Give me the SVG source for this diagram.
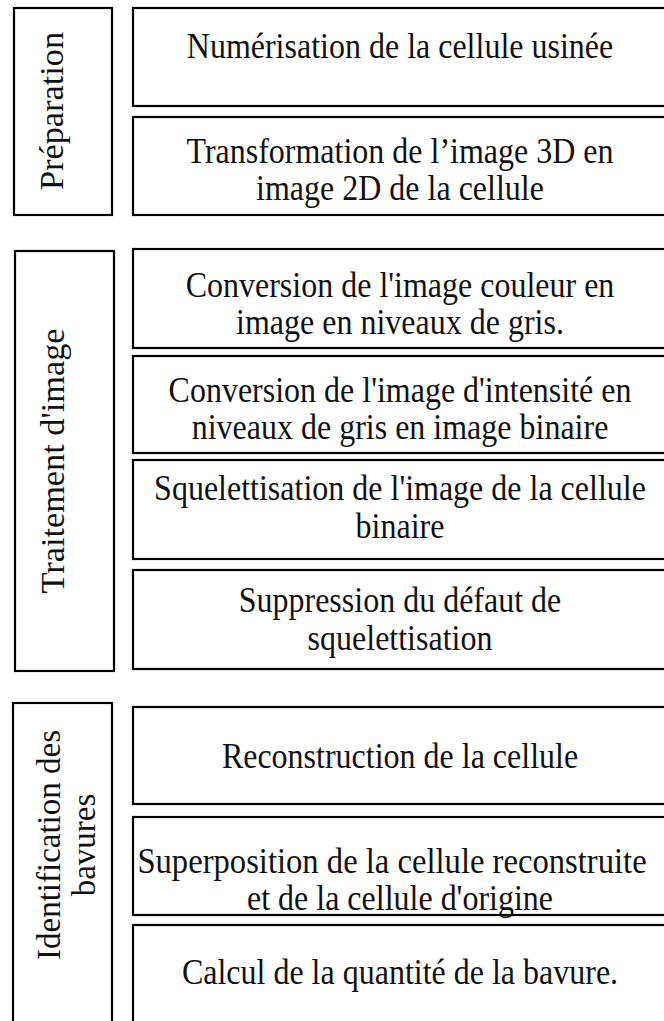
<svg xmlns="http://www.w3.org/2000/svg" width="664" height="1021" viewBox="0 0 664 1021">
<style>
rect{fill:#fff;stroke:#000;stroke-width:2.2}
text{font-family:"Liberation Serif","Times New Roman",serif;font-size:32px;fill:#111;text-anchor:middle}
text.v{font-size:33px}
</style>
<rect x="0" y="0" width="664" height="1021" style="stroke:none"/>
<g id="sec-preparation">
<rect x="14" y="8" width="98" height="207"/>
<text class="v" transform="translate(63,111) rotate(-90) scale(1.04,1)">Préparation</text>
</g>
<g id="n1"><rect x="133" y="8" width="540" height="98"/><text transform="translate(400,58) scale(1,1.12)">Numérisation de la cellule usinée</text></g>
<g id="n2"><rect x="133" y="117" width="540" height="98"/><text transform="translate(400,163) scale(1,1.12)">Transformation de l’image 3D en</text><text transform="translate(400,200) scale(1,1.12)">image 2D de la cellule</text></g>
<g id="sec-traitement">
<rect x="15" y="251" width="99" height="420"/>
<text class="v" transform="translate(64,461) rotate(-90) scale(1.04,1)">Traitement d'image</text>
</g>
<g id="n3"><rect x="133" y="249" width="540" height="99"/><text transform="translate(400,297) scale(1,1.12)">Conversion de l'image couleur en</text><text transform="translate(400,334) scale(1,1.12)">image en niveaux de gris.</text></g>
<g id="n4"><rect x="133" y="356" width="540" height="97"/><text transform="translate(400,402) scale(1,1.12)">Conversion de l'image d'intensité en</text><text transform="translate(400,439) scale(1,1.12)">niveaux de gris en image binaire</text></g>
<g id="n5"><rect x="133" y="460" width="540" height="99"/><text transform="translate(400,500) scale(1,1.12)">Squelettisation de l'image de la cellule</text><text transform="translate(400,538) scale(1,1.12)">binaire</text></g>
<g id="n6"><rect x="133" y="570" width="540" height="99"/><text transform="translate(400,612) scale(1,1.12)">Suppression du défaut de</text><text transform="translate(400,650) scale(1,1.12)">squelettisation</text></g>
<g id="sec-identification">
<rect x="13" y="703" width="99" height="330"/>
<text class="v" transform="translate(60,845) rotate(-90)">Identification des</text>
<text class="v" transform="translate(95,845) rotate(-90)">bavures</text>
</g>
<g id="n7"><rect x="133" y="707" width="540" height="97"/><text transform="translate(400,768) scale(1,1.12)">Reconstruction de la cellule</text></g>
<g id="n8"><rect x="133" y="817" width="540" height="98"/><text transform="translate(392,873) scale(1.02,1.12)">Superposition de la cellule reconstruite</text><text transform="translate(400,910) scale(1,1.12)">et de la cellule d'origine</text></g>
<g id="n9"><rect x="133" y="925" width="540" height="110"/><text transform="translate(400,984) scale(1,1.12)">Calcul de la quantité de la bavure.</text></g>
<g id="connectors"></g>
</svg>
